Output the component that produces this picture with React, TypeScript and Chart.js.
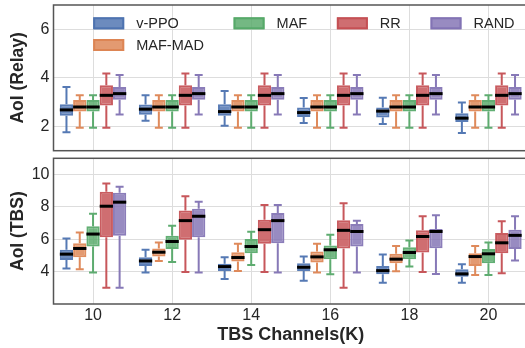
import React, { useEffect, useRef } from 'react';
import { Chart, registerables } from 'chart.js';

Chart.register(...registerables);

const categories = ['10', '12', '14', '16', '18', '20'];
const methods = ['v-PPO', 'MAF-MAD', 'MAF', 'RR', 'RAND'];
const rgb = [
  [76, 114, 176],
  [221, 132, 82],
  [85, 168, 104],
  [196, 78, 82],
  [129, 114, 179],
];

// each entry: [lower whisker, Q1, median, Q3, upper whisker]
const relayVPPO = [
  [1.76, 2.44, 2.68, 2.91, 3.62],
  [2.23, 2.48, 2.71, 2.9, 3.28],
  [2.03, 2.44, 2.61, 2.91, 3.46],
  [2.14, 2.39, 2.57, 2.78, 3.17],
  [2.1, 2.37, 2.63, 2.78, 3.18],
  [1.73, 2.18, 2.34, 2.54, 2.99],
];
const relayMAFMAD = [
  [1.95, 2.61, 2.8, 3.09, 3.28],
  [1.95, 2.61, 2.8, 3.09, 3.28],
  [1.95, 2.61, 2.8, 3.09, 3.28],
  [1.95, 2.61, 2.8, 3.09, 3.28],
  [1.95, 2.61, 2.8, 3.09, 3.28],
  [1.95, 2.61, 2.8, 3.09, 3.28],
];
const relayMAF = [
  [1.95, 2.61, 2.8, 3.09, 3.28],
  [1.95, 2.61, 2.8, 3.09, 3.28],
  [1.95, 2.61, 2.8, 3.09, 3.28],
  [1.95, 2.61, 2.8, 3.09, 3.28],
  [1.95, 2.61, 2.8, 3.09, 3.28],
  [1.95, 2.61, 2.8, 3.09, 3.28],
];
const relayRR = [
  [1.95, 2.86, 3.28, 3.7, 4.18],
  [1.95, 2.86, 3.28, 3.7, 4.18],
  [1.95, 2.86, 3.28, 3.7, 4.18],
  [1.95, 2.86, 3.28, 3.7, 4.18],
  [1.95, 2.86, 3.28, 3.7, 4.18],
  [1.95, 2.86, 3.28, 3.7, 4.18],
];
const relayRAND = [
  [2.49, 3.1, 3.35, 3.62, 4.12],
  [2.49, 3.1, 3.35, 3.62, 4.12],
  [2.49, 3.1, 3.35, 3.62, 4.12],
  [2.49, 3.1, 3.35, 3.62, 4.12],
  [2.49, 3.1, 3.35, 3.62, 4.12],
  [2.49, 3.1, 3.35, 3.62, 4.12],
];

const tbsVPPO = [
  [4.19, 4.72, 5.08, 5.35, 6.05],
  [3.94, 4.35, 4.66, 4.89, 5.35],
  [3.54, 4.04, 4.31, 4.48, 4.89],
  [3.44, 4.04, 4.27, 4.52, 4.93],
  [3.32, 3.83, 4.06, 4.35, 5.06],
  [3.32, 3.69, 3.86, 4.14, 4.46],
];
const tbsMAFMAD = [
  [4.14, 4.89, 5.43, 5.76, 6.42],
  [4.66, 4.93, 5.2, 5.43, 5.8],
  [4.04, 4.62, 4.87, 5.2, 5.72],
  [3.94, 4.56, 4.91, 5.24, 5.72],
  [4.02, 4.52, 4.77, 5.1, 5.59],
  [3.79, 4.35, 4.93, 5.14, 5.59],
];
const tbsMAF = [
  [3.94, 5.55, 6.32, 6.8, 7.58],
  [4.6, 5.39, 5.86, 6.22, 6.84],
  [4.41, 5.14, 5.55, 6.01, 6.46],
  [3.83, 4.77, 5.35, 5.61, 6.28],
  [4.31, 4.77, 5.18, 5.51, 5.93],
  [3.79, 4.52, 5.1, 5.39, 5.8],
];
const tbsRR = [
  [3.01, 6.13, 8.04, 8.93, 9.45],
  [3.98, 5.97, 7.15, 7.77, 8.66],
  [3.98, 5.72, 6.59, 7.21, 8.12],
  [3.01, 5.43, 6.55, 7.17, 8.22],
  [3.98, 5.18, 6.17, 6.55, 7.42],
  [3.9, 5.14, 5.78, 6.38, 7.11],
];
const tbsRAND = [
  [3.01, 6.22, 8.29, 8.87, 9.24],
  [3.94, 6.13, 7.42, 7.89, 8.31],
  [3.94, 5.76, 7.15, 7.62, 8.12],
  [3.94, 5.55, 6.48, 6.94, 7.15],
  [3.86, 5.45, 6.48, 6.63, 7.48],
  [4.68, 5.39, 6.24, 6.59, 7.42],
];

const relaySeries = [relayVPPO, relayMAFMAD, relayMAF, relayRR, relayRAND];
const tbsSeries = [tbsVPPO, tbsMAFMAD, tbsMAF, tbsRR, tbsRAND];
const relayTicks = [2, 4, 6];
const tbsTicks = [4, 6, 8, 10];

const FONT = "'Liberation Sans', Arial, sans-serif";
const TEXT = '#262626';
const GRID = '#dddddd';
const FACE_ALPHA = 0.82;
const EDGE_ALPHA = 0.92;

const rgba = (c: number[], a: number) => `rgba(${c[0]},${c[1]},${c[2]},${a})`;

const boxExtras = {
  id: 'boxExtras',
  beforeDatasetsDraw(chart: any) {
    const ctx = chart.ctx;
    const y = chart.scales.y;
    ctx.save();
    chart.data.datasets.forEach((ds: any, d: number) => {
      const meta = chart.getDatasetMeta(d);
      ctx.strokeStyle = rgba(ds.rgb, 0.95);
      ctx.lineWidth = 2;
      ctx.lineCap = 'butt';
      meta.data.forEach((el: any, i: number) => {
        const s = ds.stats[i];
        const x = el.x;
        const cw = el.width * 0.3;
        ctx.beginPath();
        ctx.moveTo(x, y.getPixelForValue(s[3]));
        ctx.lineTo(x, y.getPixelForValue(s[4]));
        ctx.moveTo(x, y.getPixelForValue(s[1]));
        ctx.lineTo(x, y.getPixelForValue(s[0]));
        ctx.moveTo(x - cw, y.getPixelForValue(s[4]));
        ctx.lineTo(x + cw, y.getPixelForValue(s[4]));
        ctx.moveTo(x - cw, y.getPixelForValue(s[0]));
        ctx.lineTo(x + cw, y.getPixelForValue(s[0]));
        ctx.stroke();
      });
    });
    ctx.restore();
  },
  afterDatasetsDraw(chart: any) {
    const ctx = chart.ctx;
    const y = chart.scales.y;
    ctx.save();
    ctx.strokeStyle = '#000';
    ctx.lineWidth = 3;
    chart.data.datasets.forEach((ds: any, d: number) => {
      const meta = chart.getDatasetMeta(d);
      meta.data.forEach((el: any, i: number) => {
        const s = ds.stats[i];
        const py = y.getPixelForValue(s[2]);
        ctx.beginPath();
        ctx.moveTo(el.x - el.width / 2, py);
        ctx.lineTo(el.x + el.width / 2, py);
        ctx.stroke();
      });
    });
    const a = chart.chartArea;
    ctx.strokeStyle = '#555555';
    ctx.lineWidth = 1.5;
    ctx.strokeRect(a.left, a.top, a.right - a.left, a.bottom - a.top);
    ctx.restore();
  },
};

const legendPlugin = {
  id: 'customLegend',
  afterDraw(chart: any) {
    const ctx = chart.ctx;
    const a = chart.chartArea;
    const dss = chart.data.datasets;
    ctx.save();
    ctx.font = `14.5px ${FONT}`;
    ctx.textBaseline = 'middle';
    ctx.textAlign = 'left';
    const patchW = 31;
    const patchH = 12;
    const textGap = 12;
    const colSpacing = 29.7;
    const rowY = [a.top + 18.3, a.top + 40];
    // column-major fill with 4 columns
    const ncol = 4;
    const nrows = Math.ceil(dss.length / ncol);
    const columns: number[][] = [];
    let idx = 0;
    const extra = dss.length % ncol;
    for (let c = 0; c < ncol; c++) {
      const n = c < extra || extra === 0 ? nrows : nrows - 1;
      const col: number[] = [];
      for (let r = 0; r < n && idx < dss.length; r++) col.push(idx++);
      columns.push(col);
    }
    let x = a.left + 39.7;
    columns.forEach((col) => {
      let maxW = 0;
      col.forEach((di, r) => {
        const ds = dss[di];
        const cy = rowY[r];
        ctx.fillStyle = rgba(ds.rgb, FACE_ALPHA);
        ctx.fillRect(x, cy - patchH / 2, patchW, patchH);
        ctx.strokeStyle = rgba(ds.rgb, EDGE_ALPHA);
        ctx.lineWidth = 2;
        ctx.strokeRect(x + 1, cy - patchH / 2 + 1, patchW - 2, patchH - 2);
        ctx.fillStyle = TEXT;
        ctx.fillText(ds.label, x + patchW + textGap, cy + 0.5);
        maxW = Math.max(maxW, ctx.measureText(ds.label).width);
      });
      x += patchW + textGap + maxW + colSpacing;
    });
    ctx.restore();
  },
};

function makeConfig(series: number[][][], ticksList: number[], min: number, max: number, yTitle: string, bottom: boolean) {
  return {
    type: 'bar' as const,
    data: {
      labels: categories,
      datasets: methods.map((m, k) => ({
        label: m,
        data: series[k].map((s) => [s[1], s[3]]),
        stats: series[k],
        rgb: rgb[k],
        backgroundColor: rgba(rgb[k], FACE_ALPHA),
        borderColor: rgba(rgb[k], EDGE_ALPHA),
        borderWidth: 2,
        borderSkipped: false,
        categoryPercentage: 0.84,
        barPercentage: 1,
      })),
    },
    options: {
      responsive: false,
      animation: false,
      devicePixelRatio: 1,
      layout: { padding: { top: bottom ? 5.3 : 5, left: 0, right: 0, bottom: 0 } },
      plugins: { legend: { display: false }, tooltip: { enabled: false } },
      scales: {
        x: {
          type: 'category',
          offset: true,
          grid: { offset: false, color: GRID, lineWidth: 1, drawTicks: false },
          border: { display: false },
          ticks: { display: bottom, color: TEXT, font: { family: FONT, size: 16 }, padding: 2, maxRotation: 0 },
          title: {
            display: bottom,
            text: 'TBS Channels(K)',
            color: TEXT,
            font: { family: FONT, size: 18, weight: 'bold' },
            padding: { top: 0, bottom: 2.2 },
          },
          afterFit(s: any) {
            s.height = bottom ? 44 : 2.3;
            s.paddingLeft = 0;
            s.paddingRight = 0;
          },
        },
        y: {
          type: 'linear',
          min,
          max,
          afterBuildTicks(s: any) {
            s.ticks = ticksList.map((v) => ({ value: v }));
          },
          grid: { color: GRID, lineWidth: 1, drawTicks: false },
          border: { display: false },
          ticks: { color: TEXT, font: { family: FONT, size: 16 }, padding: 4 },
          title: {
            display: true,
            text: yTitle,
            color: TEXT,
            font: { family: FONT, size: 17.5, weight: 'bold' },
            padding: { top: 7.5, bottom: 0 },
          },
          afterFit(s: any) {
            s.width = 53.5;
            s.paddingTop = 0;
            s.paddingBottom = 0;
          },
        },
      },
    },
    plugins: bottom ? [boxExtras] : [boxExtras, legendPlugin],
  };
}

export default function App() {
  const topRef = useRef<HTMLCanvasElement>(null);
  const botRef = useRef<HTMLCanvasElement>(null);

  useEffect(() => {
    const c1 = new Chart(topRef.current as any, makeConfig(relaySeries, relayTicks, 1, 7, 'AoI (Relay)', false) as any);
    const c2 = new Chart(botRef.current as any, makeConfig(tbsSeries, tbsTicks, 2, 11, 'AoI (TBS)', true) as any);
    return () => {
      c1.destroy();
      c2.destroy();
    };
  }, []);

  return (
    <div style={{ position: 'fixed', left: 0, top: 0, width: 525, height: 348, overflow: 'hidden', background: '#fff' }}>
      <canvas ref={topRef} width={528} height={153} style={{ position: 'absolute', left: 0, top: 0, width: 528, height: 153 }} />
      <canvas ref={botRef} width={528} height={195} style={{ position: 'absolute', left: 0, top: 153, width: 528, height: 195 }} />
    </div>
  );
}
